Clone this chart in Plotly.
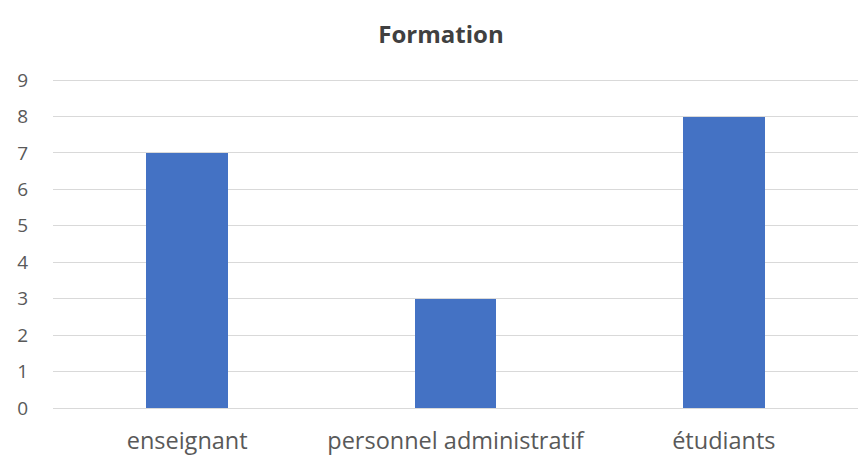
import plotly.graph_objects as go

categories = ["enseignant", "personnel administratif", "étudiants"]
values = [7, 3, 8]
y_ticks = list(range(0, 10))

fig = go.Figure(
    go.Bar(
        x=categories,
        y=values,
        marker=dict(color="#4472C4", line=dict(width=0)),
        width=0.305,
    )
)

fig.update_layout(
    width=858,
    height=456,
    margin=dict(l=53, r=0, t=79, b=48),
    paper_bgcolor="white",
    plot_bgcolor="white",
    font=dict(family="Open Sans, sans-serif", color="#595959", size=19),
    title=dict(
        text="<b>Formation</b>",
        x=0.514,
        xanchor="center",
        y=0.925,
        yanchor="middle",
        font=dict(size=24, color="#404040"),
    ),
    showlegend=False,
    bargap=0,
)

fig.update_yaxes(
    range=[0, 9.03],
    tickvals=y_ticks,
    showgrid=True,
    gridcolor="#D9D9D9",
    gridwidth=1,
    zeroline=False,
    showline=False,
    ticks="",
    ticklabelstandoff=24,
    tickfont=dict(size=19, color="#595959"),
)

fig.update_xaxes(
    showgrid=False,
    showline=True,
    linecolor="#D9D9D9",
    linewidth=1,
    ticks="",
    ticklabelstandoff=12,
    tickfont=dict(size=23.5, color="#595959"),
)

fig.write_html("out.html")
